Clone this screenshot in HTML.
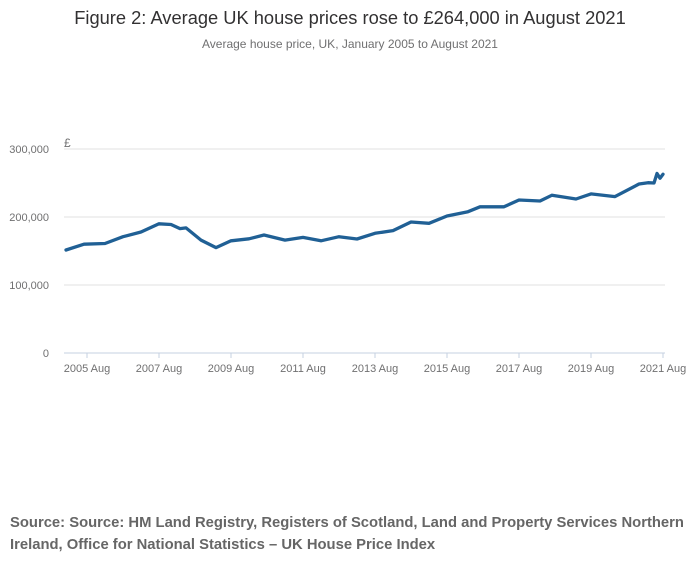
<!DOCTYPE html>
<html><head><meta charset="utf-8"><style>
body{margin:0;background:#fff;font-family:"Liberation Sans",sans-serif}
#wrap{position:relative;width:700px;height:574px;overflow:hidden}
.t{position:absolute;left:0;width:700px;text-align:center}
#src{position:absolute;left:10px;top:512px;width:690px;font-weight:bold;font-size:14.8px;line-height:22px;color:#666}
</style></head><body>
<div id="wrap">
<div class="t" style="top:7px;font-size:18.3px;color:#323132">Figure 2: Average UK house prices rose to £264,000 in August 2021</div>
<div class="t" style="top:37px;font-size:12px;color:#707071">Average house price, UK, January 2005 to August 2021</div>
<svg id="chart" width="700" height="500" style="position:absolute;left:0;top:0"></svg>
<div id="src">Source: Source: HM Land Registry, Registers of Scotland, Land and Property Services Northern Ireland, Office for National Statistics – UK House Price Index</div>
</div>
<script>
const months=[0,6,13,19,25,31,35,38,40,45,50,55,61,66,73,79,85,91,97,103,109,115,121,127,134,138,146,151,158,162,170,175,183,191,194,196,197,198,199];
const prices=[151500,160000,161000,171000,178000,190000,189000,183000,184000,166000,155000,165000,168000,173500,166000,170000,165000,171000,167600,176000,180000,192600,190700,201500,207800,215000,215000,225000,223500,232000,226500,234000,230000,248500,250400,250000,264000,257000,263000];
const yTicks=[0,100000,200000,300000];
const yTickLabels=["0","100,000","200,000","300,000"];
const xTickMonths=[7,31,55,79,103,127,151,175,199];
const xTickLabels=["2005 Aug","2007 Aug","2009 Aug","2011 Aug","2013 Aug","2015 Aug","2017 Aug","2019 Aug","2021 Aug"];
const NS="http://www.w3.org/2000/svg";
const svg=document.getElementById('chart');
const x=m=>66+3*m;
const y=v=>353-v*68/100000;
function mk(tag,attrs){const e=document.createElementNS(NS,tag);for(const k in attrs)e.setAttribute(k,attrs[k]);svg.appendChild(e);return e;}
yTicks.forEach((v,i)=>{
  if(v>0){const g=mk('line',{x1:64,x2:665,y1:y(v),y2:y(v),stroke:'#e0e0e0','stroke-width':1});
  
  }
  const t=mk('text',{x:49,y:y(v)+4,'text-anchor':'end','font-size':11,fill:'#707071','font-family':'Liberation Sans, sans-serif'});
  t.textContent=yTickLabels[i];
  
  
});
const pd=mk('text',{x:64,y:147,'font-size':12,fill:'#707071','font-family':'Liberation Sans, sans-serif'});
pd.textContent='£';


const ax=mk('line',{x1:64,x2:665,y1:353,y2:353,stroke:'#c6d0e0','stroke-width':1});


xTickMonths.forEach((m,i)=>{
  const tk=mk('line',{x1:x(m),x2:x(m),y1:353,y2:358,stroke:'#c6d0e0'});
  
  
  const t=mk('text',{x:x(m),y:372,'text-anchor':'middle','font-size':11,fill:'#707071','font-family':'Liberation Sans, sans-serif'});
  t.textContent=xTickLabels[i];
  
  
});
const d=months.map((m,i)=>(i?'L':'M')+x(m).toFixed(1)+','+y(prices[i]).toFixed(1)).join(' ');
const p=mk('path',{d:d,fill:'none',stroke:'#206095','stroke-width':3.3,'stroke-linejoin':'round','stroke-linecap':'round'});


</script>
</body></html>
